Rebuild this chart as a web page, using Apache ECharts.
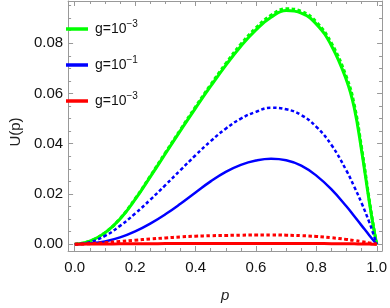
<!DOCTYPE html>
<html><head><meta charset="utf-8">
<script src="https://cdn.jsdelivr.net/npm/echarts@6/dist/echarts.min.js"></script>
<style>html,body{margin:0;padding:0;background:#fff}#c{width:390px;height:308px}</style>
</head><body><div id="c"></div>
<script>
// ---- data ----
const p          = [0,0.05,0.1,0.15,0.2,0.25,0.3,0.35,0.4,0.45,0.5,0.55,0.6,0.65,0.7,0.75,0.8,0.85,0.9,0.925,0.95,0.975,0.99,1];
const greenSolid = [0,0.0012,0.0045,0.0100,0.0178,0.0268,0.0360,0.0452,0.0542,0.0629,0.0712,0.0788,0.0853,0.0903,0.0930,0.0920,0.0876,0.0790,0.0652,0.0545,0.0370,0.0170,0.0062,0];
const greenDash  = [0,0.0012,0.0046,0.0102,0.0181,0.0271,0.0364,0.0456,0.0547,0.0635,0.0719,0.0796,0.0861,0.0911,0.0937,0.0927,0.0884,0.0800,0.0664,0.0558,0.0382,0.0178,0.0066,0];
const blueSolid  = [0,0.0003,0.0011,0.0027,0.0051,0.0082,0.0119,0.0161,0.0206,0.0250,0.0288,0.0316,0.0333,0.0340,0.0334,0.0313,0.0273,0.0218,0.0150,0.0112,0.0074,0.0036,0.0014,0];
const blueDash   = [0,0.0008,0.0033,0.0073,0.0122,0.0177,0.0235,0.0295,0.0354,0.0410,0.0460,0.0500,0.0527,0.0543,0.0537,0.0514,0.0467,0.0395,0.0292,0.0230,0.0163,0.0088,0.0036,0];
const redSolid   = [0,0.00005,0.0001,0.00015,0.0002,0.00022,0.00025,0.00027,0.00028,0.0003,0.0003,0.0003,0.0003,0.0003,0.00029,0.00028,0.00025,0.00022,0.00017,0.00014,0.0001,0.00005,0.00002,0];
const redDash    = [0,0.0002,0.0006,0.0011,0.0016,0.0021,0.0025,0.0029,0.0032,0.0034,0.0035,0.0036,0.0037,0.0037,0.0036,0.0034,0.0031,0.0026,0.0019,0.0015,0.0010,0.0005,0.0002,0];

const xMajorTicks = [0,0.2,0.4,0.6,0.8,1.0];
const xMinorTicks = [0.05,0.1,0.15,0.25,0.3,0.35,0.45,0.5,0.55,0.65,0.7,0.75,0.85,0.9,0.95];
const yMajorTicks = [0,0.02,0.04,0.06,0.08];
const yMinorTicks = [0.005,0.01,0.015,0.025,0.03,0.035,0.045,0.05,0.055,0.065,0.07,0.075,0.085,0.09,0.095];
const legendNames = ['green','blue','red'];
const legendLabels = {green:'g=10{s|−3}', blue:'g=10{s|−1}', red:'g=10{s|−3}'};
const xName = 'p';
const yName = 'U(p)';

// ---- chart ----
const X_MIN = -0.022, X_MAX = 1.0175, Y_MIN = -0.0027, Y_MAX = 0.0968;
const FRAME = '#999999';
const FONT = 'Liberation Sans';
const pair = arr => p.map((x,i)=>[x, arr[i]]);

function xAx(pos, ticks, len, showLine, labels){
  return {type:'value', position:pos, min:X_MIN, max:X_MAX,
    axisLine:{show:showLine, onZero:false, lineStyle:{color:FRAME, width:1}},
    axisTick:{show:true, inside:true, length:len, customValues:ticks, lineStyle:{color:FRAME, width:1}},
    axisLabel: labels ? {show:true, customValues:xMajorTicks, formatter:v=>v.toFixed(1), color:'#111', fontFamily:FONT, fontSize:15, margin:9} : {show:false},
    splitLine:{show:false}};
}
function yAx(pos, ticks, len, showLine, labels){
  return {type:'value', position:pos, min:Y_MIN, max:Y_MAX,
    axisLine:{show:showLine, onZero:false, lineStyle:{color:FRAME, width:1}},
    axisTick:{show:true, inside:true, length:len, customValues:ticks, lineStyle:{color:FRAME, width:1}},
    axisLabel: labels ? {show:true, customValues:yMajorTicks, formatter:v=>v.toFixed(2), color:'#111', fontFamily:FONT, fontSize:15, margin:5} : {show:false},
    splitLine:{show:false}};
}

const xAxes = [
  Object.assign(xAx('bottom', xMajorTicks, 5, true, true), {name:xName, nameLocation:'middle', nameGap:37,
    nameTextStyle:{fontFamily:FONT, fontStyle:'italic', fontSize:15, color:'#222'}}),
  xAx('bottom', xMinorTicks, 3, false, false),
  xAx('top', xMajorTicks, 5, true, false),
  xAx('top', xMinorTicks, 3, false, false)
];
const yAxes = [
  Object.assign(yAx('left', yMajorTicks, 5, true, true), {name:yName, nameLocation:'middle', nameGap:40, nameRotate:90,
    nameTextStyle:{fontFamily:FONT, fontSize:15, color:'#222', padding:[0,12,0,0]}}),
  yAx('left', yMinorTicks, 3, false, false),
  yAx('right', yMajorTicks, 5, true, false),
  yAx('right', yMinorTicks, 3, false, false)
];

function line(name, arr, color, width, dashed){
  return {name:name, type:'line', xAxisIndex:0, yAxisIndex:0, data:pair(arr), showSymbol:false,
    smooth:0.45, silent:true,
    lineStyle:{color:color, width:width, type: dashed ? [3.5,2.5] : 'solid'},
    itemStyle:{color:color}};
}

const option = {
  animation:false,
  backgroundColor:'#fff',
  grid:{left:56, right:5, top:1, bottom:57},
  xAxis:xAxes,
  yAxis:yAxes,
  legend:{
    data:legendNames, orient:'vertical', left:61, top:14, itemGap:16,
    icon:'rect', itemWidth:22, itemHeight:3.5, selectedMode:false,
    formatter:n=>legendLabels[n],
    textStyle:{fontFamily:FONT, fontSize:14, color:'#111', lineHeight:20, padding:[0,0,0,2],
      rich:{s:{fontFamily:FONT, fontSize:10, color:'#111', padding:[0,0,9,0]}}}
  },
  series:[
    line('green', greenSolid, '#00ff00', 3, false),
    line('green dashed', greenDash, '#00ff00', 3, true),
    line('blue', blueSolid, '#0000ff', 2.5, false),
    line('blue dashed', blueDash, '#0000ff', 2.5, true),
    line('red', redSolid, '#ff0000', 3, false),
    line('red dashed', redDash, '#ff0000', 3, true)
  ]
};
const chart = echarts.init(document.getElementById('c'), null, {renderer:'canvas'});
chart.setOption(option);
</script></body></html>
